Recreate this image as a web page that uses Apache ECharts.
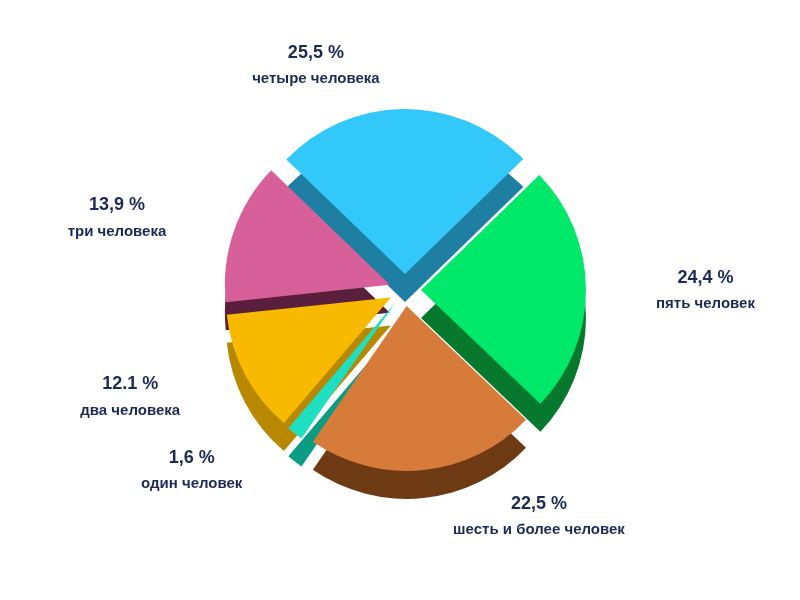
<!DOCTYPE html>
<html>
<head>
<meta charset="utf-8">
<script src="https://cdn.jsdelivr.net/npm/echarts@6/dist/echarts.min.js"></script>
<style>html,body{margin:0;background:#fff}#main{width:800px;height:600px}</style>
</head>
<body>
<div id="main"></div>
<script>
var names = ['четыре человека', 'пять человек', 'шесть и более человек', 'один человек', 'два человека', 'три человека'];
var values = [25.5, 24.4, 22.5, 1.6, 12.1, 13.9];
var valueLabels = ['25,5 %', '24,4 %', '22,5 %', '1,6 %', '12.1 %', '13,9 %'];
var colors = ['#33c8fa', '#00e86a', '#d67b3a', '#1ee0c0', '#f8ba00', '#d8609a'];
var sideColors = ['#1f7fa3', '#07792f', '#6e3a14', '#0c9c84', '#b88800', '#5a1f3c'];

var myChart = echarts.init(document.getElementById('main'));

function build(cols, withLabels) {
    var res = [];
    for (var i = 0; i < values.length; i++) {
        res.push({
            name: names[i],
            value: values[i],
            selected: true,
            itemStyle: {color: cols[i]},
            label: withLabels ? {formatter: '{v|' + valueLabels[i] + '}\n{n|' + names[i] + '}'} : {show: false}
        });
    }
    return res;
}

var option = {
    animation: false,
    series: [
        {
            type: 'pie',
            silent: true,
            center: [405, 318],
            radius: 165,
            startAngle: 136,
            selectedMode: 'multiple',
            selectedOffset: 16,
            label: {show: false},
            labelLine: {show: false},
            data: build(sideColors, false)
        },
        {
            type: 'pie',
            center: [405, 290],
            radius: 165,
            startAngle: 136,
            selectedMode: 'multiple',
            selectedOffset: 16,
            label: {
                position: 'outside',
                align: 'center',
                rich: {
                    v: {fontFamily: 'Arial', fontSize: 18, fontWeight: 'bold', color: '#1c2a55', lineHeight: 30, align: 'center'},
                    n: {fontFamily: 'Arial', fontSize: 15, fontWeight: 'bold', color: '#1c2a55', lineHeight: 22, align: 'center'}
                }
            },
            labelLine: {show: false, length: 45, length2: 20},
            data: build(colors, true)
        }
    ]
};
myChart.setOption(option);
</script>
</body>
</html>
